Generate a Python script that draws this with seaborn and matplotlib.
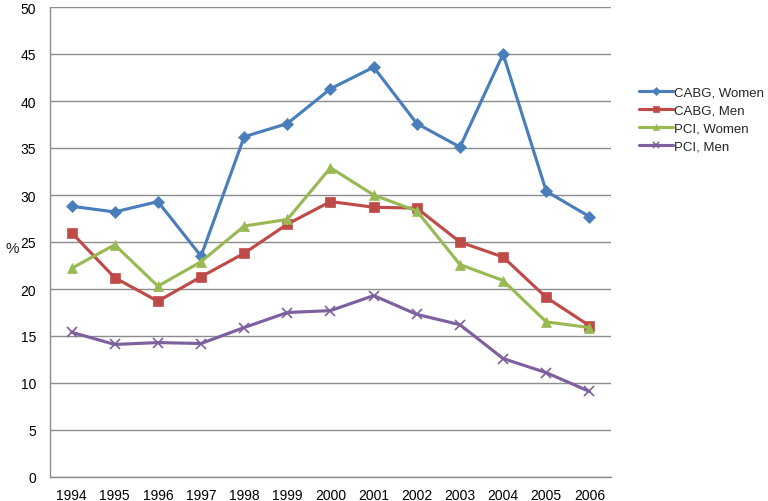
import matplotlib
matplotlib.use("Agg")
import matplotlib.pyplot as plt
import seaborn as sns
import pandas as pd

years = list(range(1994, 2007))
cabg_women = [28.8, 28.2, 29.3, 23.5, 36.2, 37.6, 41.3, 43.6, 37.6, 35.1, 45.0, 30.4, 27.7]
cabg_men = [26.0, 21.2, 18.7, 21.3, 23.8, 26.9, 29.3, 28.7, 28.6, 25.0, 23.4, 19.1, 16.1]
pci_women = [22.2, 24.7, 20.3, 22.9, 26.7, 27.4, 32.9, 30.0, 28.3, 22.6, 20.9, 16.5, 15.9]
pci_men = [15.4, 14.1, 14.3, 14.2, 15.9, 17.5, 17.7, 19.3, 17.3, 16.2, 12.6, 11.1, 9.1]
series_names = ["CABG, Women", "CABG, Men", "PCI, Women", "PCI, Men"]
series_vals = [cabg_women, cabg_men, pci_women, pci_men]
colors = ["#4A7EBB", "#BE4B48", "#98B954", "#7D60A0"]
markers = ["D", "s", "^", "x"]
msizes = [6, 7.5, 7.5, 7]

sns.set_style("white")
plt.rcParams['font.family'] = ['Liberation Sans', 'DejaVu Sans']

fig = plt.figure(figsize=(7.68, 5.02), dpi=100)
ax = fig.add_axes([50/768, (502-478)/502, (611-50)/768, (478-8)/502])

for name, vals, c, m, ms in zip(series_names, series_vals, colors, markers, msizes):
    df = pd.DataFrame({"year": years, "value": vals})
    sns.lineplot(data=df, x="year", y="value", ax=ax, color=c, marker=m,
                 markersize=ms, linewidth=2.25, label=name,
                 markeredgecolor=c, markeredgewidth=1.2 if m == "x" else 0.5)

ax.set_xlim(1993.5, 2006.5)
ax.set_ylim(0, 50)
ax.set_yticks(range(0, 51, 5))
ax.set_xticks(years)
ax.set_xticklabels([str(y) for y in years])
ax.yaxis.grid(True, color="#8C8C8C", linewidth=1.0)
ax.xaxis.grid(False)
ax.set_axisbelow(True)
for s in ["top", "right"]:
    ax.spines[s].set_visible(False)
for s in ["left", "bottom"]:
    ax.spines[s].set_color("#8C8C8C")
    ax.spines[s].set_linewidth(1.0)
ax.tick_params(axis="y", length=0, labelsize=10, colors="black", pad=10)
ax.tick_params(axis="x", length=0, labelsize=10, colors="black", pad=8)
ax.set_xlabel("")
ax.set_ylabel("%", rotation=0, fontsize=11, va="center", ha="center")
ax.yaxis.set_label_coords(-0.068, 0.487)

leg = ax.legend(loc="upper left", bbox_to_anchor=(1.04, 0.843), frameon=False,
                fontsize=9.5, handlelength=2.6, handletextpad=0.05, labelspacing=0.45,
                borderaxespad=0)
for h in leg.legend_handles:
    h.set_markersize(4)
    h.set_linewidth(2.25)

fig.savefig("out.png", dpi=100)
